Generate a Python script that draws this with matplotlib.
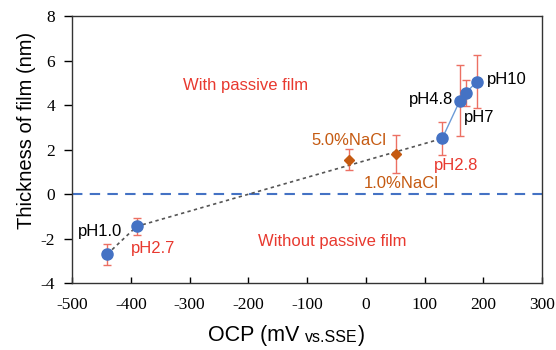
import matplotlib
matplotlib.use("Agg")
import matplotlib.pyplot as plt

plt.rcParams["axes.unicode_minus"] = False

# blue points (pH series)
PH_LABELS = ["pH1.0", "pH2.7", "pH2.8", "pH4.8", "pH7", "pH10"]
PH_OCP = [-440, -390, 130, 160, 170, 189]
PH_THICK = [-2.7, -1.45, 2.5, 4.2, 4.55, 5.05]
PH_ERR = [0.47, 0.38, 0.75, 1.6, 0.6, 1.2]

# orange diamonds (NaCl)
NACL_LABELS = ["5.0%NaCl", "1.0%NaCl"]
NACL_OCP = [-28, 52]
NACL_THICK = [1.55, 1.8]
NACL_ERR = [0.48, 0.85]

BLUE = "#4472C4"
ORANGE = "#C55A11"
ERR_RED = "#EC7063"
TEXT_RED = "#E8392F"


fig = plt.figure(figsize=(5.56, 3.5), dpi=100)
ax = fig.add_axes([0.1295, 0.191, 0.8455, 0.763])

ax.axhline(0, color=BLUE, lw=1.5, dashes=(5, 3.5), zorder=1)

# trend (dotted) through the low-pH points
ax.plot(PH_OCP[:3], PH_THICK[:3], color="#555555", lw=1.2, dashes=(2, 2), zorder=2)
ax.plot(PH_OCP[2:], PH_THICK[2:], color="#6C9BD8", lw=1.0, zorder=2)

ax.errorbar(PH_OCP, PH_THICK, yerr=PH_ERR, fmt="none", ecolor=ERR_RED,
            elinewidth=1.0, capsize=3, capthick=1.0, zorder=3)
ax.errorbar(NACL_OCP, NACL_THICK, yerr=NACL_ERR, fmt="none", ecolor=ERR_RED,
            elinewidth=1.0, capsize=3, capthick=1.0, zorder=3)
ax.plot(PH_OCP, PH_THICK, "o", color=BLUE, ms=8, mec=BLUE, zorder=4)
ax.plot(NACL_OCP, NACL_THICK, "D", color=ORANGE, ms=5.5, mec=ORANGE, zorder=4)

lab = dict(fontsize=12, family="Liberation Sans", va="center")
ax.text(-490, -1.7, PH_LABELS[0], color="black", ha="left", **lab)
ax.text(-400, -2.43, PH_LABELS[1], color=TEXT_RED, ha="left", **lab)
ax.text(153, 1.3, PH_LABELS[2], color=TEXT_RED, ha="center", **lab)
ax.text(149, 4.27, PH_LABELS[3], color="black", ha="right", **lab)
ax.text(167, 3.46, PH_LABELS[4], color="black", ha="left", **lab)
ax.text(206, 5.17, PH_LABELS[5], color="black", ha="left", **lab)
ax.text(-28, 2.43, NACL_LABELS[0], color=ORANGE, ha="center", **lab)
ax.text(61, 0.5, NACL_LABELS[1], color=ORANGE, ha="center", **lab)

ax.text(-204, 4.9, "With passive film", color=TEXT_RED, ha="center", **lab)
ax.text(-57, -2.14, "Without passive film", color=TEXT_RED, ha="center", **lab)

ax.set_xlim(-500, 300)
ax.set_ylim(-4, 8)
ax.set_xticks(range(-500, 301, 100))
ax.set_yticks(range(-4, 9, 2))
ax.tick_params(axis="x", direction="in", length=4, width=1, pad=10)
ax.tick_params(axis="y", direction="out", length=6, width=1, pad=6)
for t in ax.get_xticklabels() + ax.get_yticklabels():
    t.set_family("Liberation Serif")
    t.set_fontsize(12.5)
for sp in ax.spines.values():
    sp.set_color("#333333")
    sp.set_linewidth(1.0)

ax.set_ylabel("Thickness of film (nm)", fontsize=14.5, family="Liberation Sans")
ax.yaxis.set_label_coords(-0.076, 0.573)

# x label with small "vs.SSE"
t1 = fig.text(0.374, 0.025, "OCP (mV ", fontsize=15.5, family="Liberation Sans",
              ha="left", va="baseline")
t2 = ax.annotate("vs.SSE", xy=(1, 0), xycoords=t1, xytext=(0, 0.85),
                 textcoords="offset points", fontsize=11.5,
                 family="Liberation Sans", ha="left", va="bottom",
                 annotation_clip=False)
ax.annotate(")", xy=(1, 0), xycoords=t2, xytext=(0, -0.85),
            textcoords="offset points", fontsize=15.5,
            family="Liberation Sans", ha="left", va="bottom",
            annotation_clip=False)

fig.savefig("out.png", dpi=100)
